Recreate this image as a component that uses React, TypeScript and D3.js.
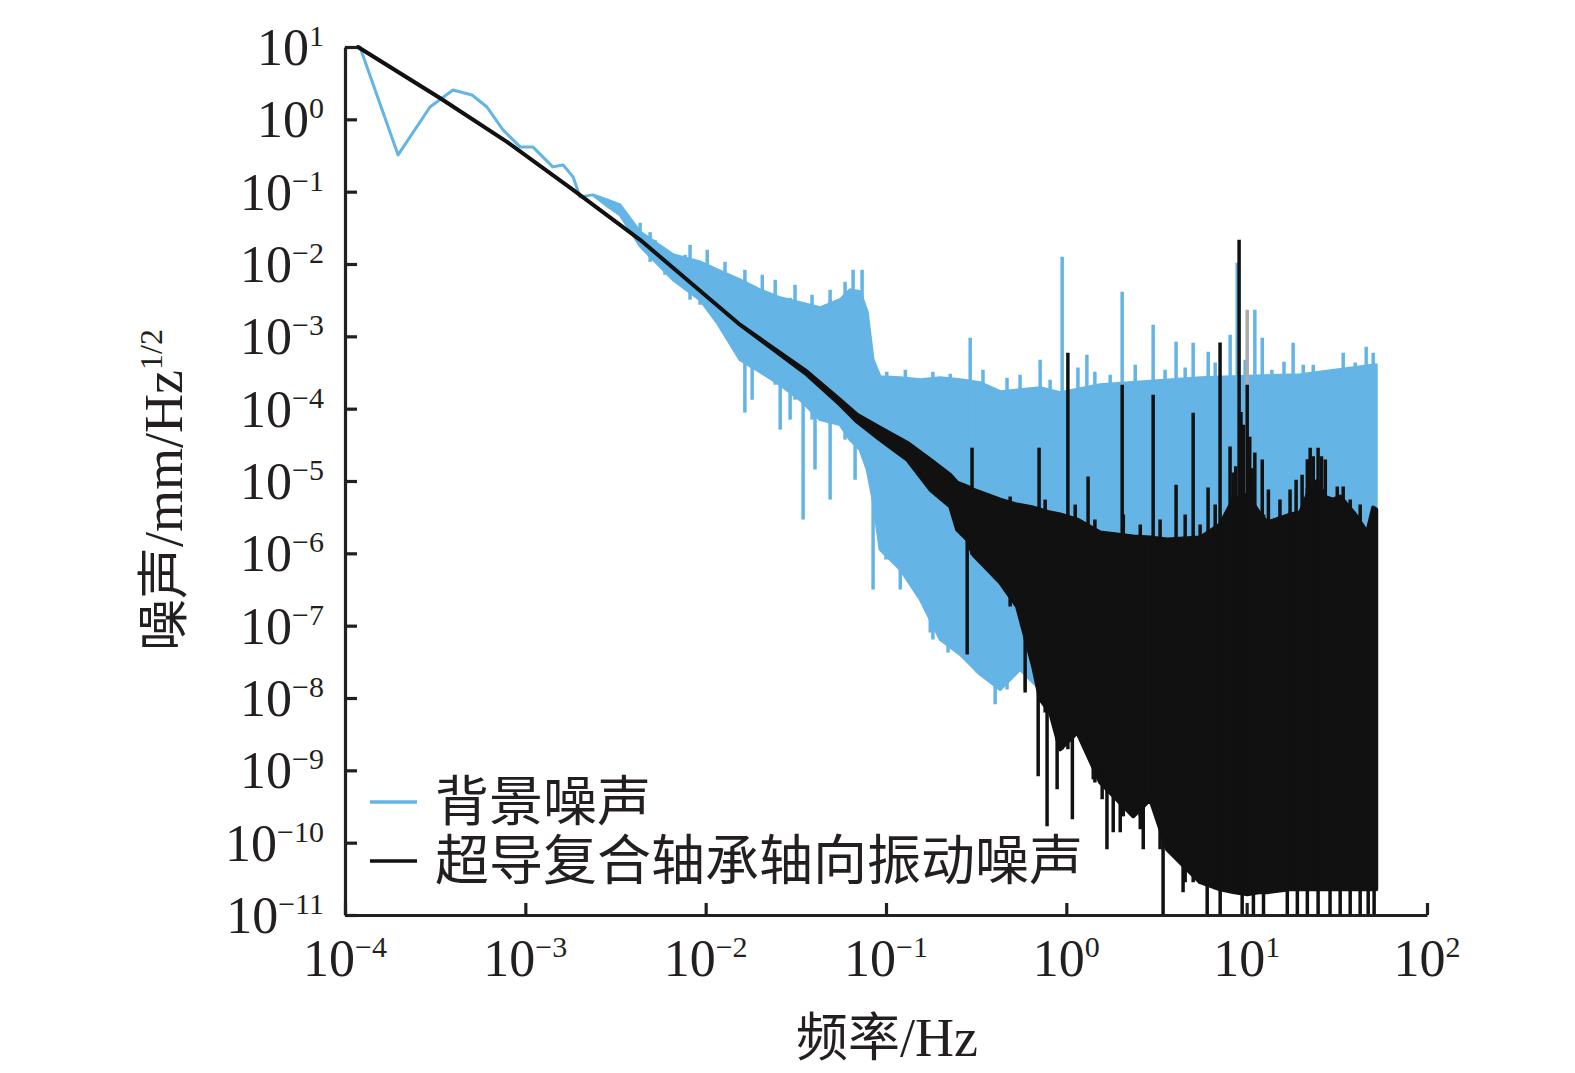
import React, { useRef, useEffect } from "react";
import * as d3 from "d3";

const W = 1575;
const H = 1073;
const BLUE = "#64b4e6";
const BLACK = "#111111";
const INK = "#231f20";

// 背景噪声 : envelope of the noisy curve (Hz, mm/Hz^1/2)
const bgFreq = [
  1.21e-4, 1.97e-4, 2.96e-4, 3.97e-4, 5.06e-4, 6.13e-4, 7.52e-4, 9.35e-4, 1.1e-3, 1.42e-3,
  1.62e-3, 1.84e-3, 2.01e-3, 2.37e-3, 2.84e-3, 3.35e-3, 4.33e-3, 6.6e-3, 9.31e-3, 1.16e-2,
  1.55e-2, 2.0e-2, 2.59e-2, 3.34e-2, 4.31e-2, 5.56e-2, 6.32e-2, 7.18e-2, 7.86e-2, 8.48e-2,
  9.27e-2, 0.12, 0.155, 0.2, 0.258, 0.333, 0.43, 0.554, 0.716, 0.924, 1.54, 5.52, 19.8, 52.3,
];
const bgHigh = [
  10, 0.322, 1.48, 2.55, 2.17, 1.48, 0.714, 0.416, 0.416, 0.22,
  0.234, 0.16, 0.0847, 0.0903, 0.0771, 0.0658, 0.0276, 0.0134, 0.0107, 8.32e-3,
  6.05e-3, 4.4e-3, 3.41e-3, 2.91e-3, 2.48e-3, 3.21e-3, 4.4e-3, 4.13e-3, 2.19e-3, 4.75e-4,
  2.77e-4, 2.68e-4, 2.52e-4, 2.68e-4, 2.52e-4, 2.29e-4, 1.72e-4, 1.83e-4, 1.95e-4, 1.66e-4,
  2.14e-4, 2.68e-4, 2.95e-4, 4.06e-4,
];
const bgLow = [
  10, 0.322, 1.48, 2.55, 2.17, 1.48, 0.714, 0.416, 0.416, 0.22,
  0.234, 0.16, 0.0847, 0.0903, 0.0637, 0.0479, 0.0177, 6.05e-3, 3.21e-3, 1.54e-3,
  4.75e-4, 3.24e-4, 2.14e-4, 1.33e-4, 7.05e-5, 6.01e-5, 3.73e-5, 2.72e-5, 1.44e-5, 5.53e-6,
  1.13e-6, 5.97e-7, 2.3e-7, 6.44e-8, 4.0e-8, 2.12e-8, 1.31e-8, 2.48e-8, 1.31e-8, 9.6e-9,
  5.06e-9, 5.06e-9, 5.06e-9, 5.06e-9,
];
const bgSpikes: [number, number][] = [
  [4.33e-3, 0.0371], [5.24e-3, 0.0216], [8.19e-3, 0.0184], [1.02e-2, 0.0157], [1.28e-2, 0.0107],
  [1.65e-2, 8.32e-3], [2.06e-2, 7.1e-3], [2.43e-2, 6.05e-3], [3.13e-2, 5.16e-3], [3.89e-2, 3.76e-3],
  [4.9e-2, 4.4e-3], [5.93e-2, 5.68e-3], [6.57e-2, 8.32e-3], [7.37e-2, 8.32e-3],
  [0.101, 3.24e-4], [0.128, 3.46e-4], [0.182, 3.24e-4], [0.227, 3.04e-4], [0.293, 9.57e-4],
  [0.345, 3.46e-4], [0.469, 2.68e-4], [0.554, 2.95e-4], [0.716, 4.75e-4], [0.813, 2.52e-4],
  [0.948, 0.0126], [1.16, 3.7e-4], [1.3, 5.57e-4], [1.44, 3.24e-4], [1.75, 2.95e-4],
  [2.04, 4.13e-3], [2.41, 4.06e-4], [3.03, 1.45e-3], [3.53, 3.46e-4], [4.06, 8.42e-4],
  [4.56, 3.7e-4], [5.05, 8.16e-4], [6.12, 6.12e-4], [6.69, 4.34e-4], [8.1, 1.05e-3],
  [8.86, 0.0104], [9.81, 4.75e-4], [11.1, 2.33e-3], [12.2, 9.57e-4], [13.8, 3.46e-4],
  [16.1, 4.46e-4], [18.1, 8.16e-4], [20.6, 4.06e-4], [23.4, 4.06e-4], [27.3, 3.24e-4],
  [34.3, 5.93e-4], [40.0, 4.34e-4], [46.0, 7.18e-4], [50.3, 5.93e-4],
];
const bgDips: [number, number][] = [
  [4.92e-3, 0.0107], [5.95e-3, 7.1e-3], [7.69e-3, 4.4e-3], [9.31e-3, 2.73e-3], [1.37e-2, 8.97e-4],
  [1.65e-2, 8.81e-5], [1.81e-2, 1.33e-4], [2.59e-2, 5.13e-5], [2.94e-2, 7.05e-5], [3.47e-2, 2.93e-6],
  [4.04e-2, 1.44e-5], [4.9e-2, 5.53e-6], [6.74e-2, 1.04e-5], [8.48e-2, 3.16e-7], [0.1, 8.2e-7],
  [0.12, 3.16e-7], [0.14, 5.97e-7], [0.176, 8.05e-8], [0.221, 4.26e-8], [0.275, 1.22e-7],
  [0.32, 2.26e-8], [0.403, 8.2e-9], [0.488, 3.41e-8], [0.591, 1.31e-8],
];
const greySpikes: [number, number][] = [[10.07, 2.33e-3]];

// 超导复合轴承轴向振动噪声
const bkFreq = [
  1.18e-4, 3.36e-4, 7.91e-4, 1.84e-3, 4.33e-3, 1.55e-2, 3.65e-2, 5.56e-2, 6.92e-2,
  9.27e-2, 0.131, 0.176, 0.227, 0.248, 0.282, 0.304, 0.43, 0.533, 0.654,
  0.716, 0.813, 0.924, 1.15, 1.54, 2.35, 2.92, 3.62, 5.52, 7.13,
  8.42, 10.07, 11.9, 13.0, 17.4, 19.8, 22.5, 24.6, 27.3, 30.2,
  33.0, 40.0, 46.6, 50.3, 52.3,
];
const bkHigh = [
  10, 1.97, 0.488, 0.106, 0.0216, 1.45e-3, 3.24e-4, 1.33e-4, 8.26e-5,
  5.47e-5, 3.39e-5, 1.98e-5, 1.22e-5, 9.51e-6, 8.37e-6, 7.6e-6, 5.53e-6, 4.72e-6, 4.29e-6,
  4.03e-6, 3.66e-6, 3.44e-6, 2.93e-6, 1.94e-6, 1.71e-6, 1.65e-6, 1.55e-6, 1.65e-6, 2.5e-6,
  5.53e-6, 6.5e-6, 3.44e-6, 2.66e-6, 3.44e-6, 3.66e-6, 8.0e-6, 1.0e-5, 6.0e-6, 5.53e-6,
  6.1e-6, 3.44e-6, 1.94e-6, 4.29e-6, 4.03e-6,
];
const bkLow = [
  10, 1.97, 0.488, 0.106, 0.0216, 1.45e-3, 2.95e-4, 1.14e-4, 6.6e-5,
  3.73e-5, 1.98e-5, 7.6e-6, 4.43e-6, 2.13e-6, 1.55e-6, 9.6e-7, 3.95e-7, 1.84e-7, 2.73e-8,
  9.6e-9, 6.3e-9, 1.95e-9, 3.35e-9, 6.8e-10, 2.32e-10, 3.98e-10, 8.1e-11, 2.84e-11, 2.27e-11,
  2.07e-11, 1.94e-11, 2.07e-11, 2.07e-11, 2.27e-11, 2.27e-11, 2.27e-11, 2.27e-11, 2.27e-11, 2.27e-11,
  2.27e-11, 2.27e-11, 2.27e-11, 2.27e-11, 2.27e-11,
];
const bkSpikes: [number, number][] = [
  [0.3, 2.89e-5], [0.488, 6.1e-6], [0.554, 4.72e-6], [0.706, 2.89e-5], [0.763, 5.53e-6],
  [1.02, 5.93e-4], [1.12, 4.72e-6], [1.32, 1.15e-5], [1.44, 2.93e-6], [2.04, 2.14e-4],
  [2.07, 3.44e-6], [2.57, 2.5e-6], [3.03, 1.56e-4], [3.31, 2.93e-6], [4.06, 8.9e-6],
  [4.56, 3.44e-6], [5.05, 8.8e-5], [5.52, 2.5e-6], [6.11, 8.1e-6], [6.69, 4.72e-6],
  [7.12, 8.2e-4], [8.09, 2.99e-5], [8.42, 1.31e-5], [8.7, 1.6e-5], [9.08, 2.16e-2],
  [9.3, 9.0e-5], [9.6, 6.0e-5], [10.07, 2.14e-4], [10.4, 4.1e-5], [10.7, 1.5e-5],
  [11.1, 2.47e-5], [12.2, 1.98e-5], [13.2, 7.6e-6], [15.3, 5.53e-6], [17.4, 7.6e-6],
  [18.8, 1.04e-5], [20.3, 1.22e-5], [21.7, 2.0e-5], [22.5, 2.89e-5], [23.4, 2.2e-5],
  [24.9, 2.89e-5], [26.0, 2.2e-5], [27.3, 1.98e-5], [31.8, 8.4e-6], [34.3, 8.4e-6],
  [37.5, 5.53e-6], [42.6, 4.72e-6],
];
const bkDips: [number, number][] = [
  [0.282, 4.0e-8], [0.591, 1.19e-8], [0.698, 8.26e-10], [0.782, 1.69e-10], [0.889, 5.47e-10],
  [0.948, 1.95e-9], [1.08, 2.1e-10], [1.41, 7.5e-10], [1.58, 3.98e-10], [1.68, 8.1e-11],
  [1.82, 1.39e-10], [1.99, 1.39e-10], [2.57, 1.53e-10], [2.67, 8.1e-11], [3.03, 3.61e-10],
  [3.44, 5e-12], [4.44, 2.07e-11], [6.04, 5e-12], [7.13, 5e-12], [9.44, 5e-12],
  [10.9, 5e-12], [12.4, 5e-12], [16.8, 5e-12], [19.1, 5e-12], [21.7, 5e-12],
  [24.9, 5e-12], [29.0, 5e-12], [33.0, 5e-12], [37.5, 5e-12], [42.6, 5e-12],
  [47.2, 5e-12], [50.9, 5e-12],
];

const xExps = [-4, -3, -2, -1, 0, 1, 2];
const yExps = [1, 0, -1, -2, -3, -4, -5, -6, -7, -8, -9, -10, -11];

const legendItems = [
  { label: "背景噪声", color: BLUE },
  { label: "超导复合轴承轴向振动噪声", color: BLACK },
];

const SERIF = "'Liberation Serif', 'Times New Roman', serif";
const CJK = "'Noto Sans CJK SC', sans-serif";

const sup = (e: number) => (e < 0 ? "\u2212" + Math.abs(e) : String(e));

const App = () => {
  const svgRef = useRef<SVGSVGElement>(null);

  useEffect(() => {
    const svg = d3.select(svgRef.current);
    svg.selectAll("*").remove();

    const x = d3.scaleLog().domain([1e-4, 1e2]).range([345, 1427]);
    const y = d3.scaleLog().domain([1e-11, 1e1]).range([915, 47]);

    svg
      .append("defs")
      .append("clipPath")
      .attr("id", "plot-clip")
      .append("rect")
      .attr("x", 345)
      .attr("y", 30)
      .attr("width", 1427 - 345)
      .attr("height", 915 - 30);

    const plot = svg.append("g").attr("clip-path", "url(#plot-clip)");

    const drawBand = (freq: number[], high: number[], low: number[], color: string, sw: number) => {
      const area = d3
        .area<number>()
        .x((f) => x(f))
        .y0((_, i) => y(low[i]))
        .y1((_, i) => y(high[i]));
      plot
        .append("path")
        .datum(freq)
        .attr("d", area)
        .attr("fill", color)
        .attr("stroke", color)
        .attr("stroke-width", sw)
        .attr("stroke-linejoin", "round");
    };

    // vertical excursions, anchored inside the band at the nearest sample
    const drawSticks = (
      sticks: [number, number][],
      freq: number[],
      anchor: number[],
      color: string,
      sw: number
    ) => {
      plot
        .append("g")
        .selectAll("line")
        .data(sticks)
        .join("line")
        .attr("x1", (d) => x(d[0]))
        .attr("x2", (d) => x(d[0]))
        .attr("y1", (d) => y(d[1]))
        .attr("y2", (d) => {
          const i = d3.minIndex(freq, (f) => Math.abs(Math.log(f / d[0])));
          return y(anchor[i]);
        })
        .attr("stroke", color)
        .attr("stroke-width", sw);
    };

    drawBand(bgFreq, bgHigh, bgLow, BLUE, 3);
    drawSticks(bgSpikes, bgFreq, bgLow, BLUE, 3.5);
    drawSticks(bgDips, bgFreq, bgHigh, BLUE, 3.5);
    drawSticks(greySpikes, bgFreq, bgLow, "#aaaaaa", 3.5);

    drawBand(bkFreq, bkHigh, bkLow, BLACK, 4);
    drawSticks(bkSpikes, bkFreq, bkLow, BLACK, 3.5);
    drawSticks(bkDips, bkFreq, bkHigh, BLACK, 3.5);

    // axes
    const xAxis = d3
      .axisBottom(x)
      .tickValues(xExps.map((e) => Math.pow(10, e)))
      .tickSizeInner(-12)
      .tickSizeOuter(0)
      .tickFormat(() => "");
    const yAxis = d3
      .axisLeft(y)
      .tickValues(yExps.map((e) => Math.pow(10, e)))
      .tickSizeInner(-12)
      .tickSizeOuter(0)
      .tickFormat(() => "");

    const gx = svg.append("g").attr("transform", "translate(0,915)").call(xAxis);
    const gy = svg.append("g").attr("transform", "translate(345,0)").call(yAxis);
    [gx, gy].forEach((g) => {
      g.select(".domain").attr("stroke", INK).attr("stroke-width", 3.2);
      g.selectAll(".tick line").attr("stroke", INK).attr("stroke-width", 3.2);
    });

    // tick labels 10^n
    const xl = svg
      .append("g")
      .selectAll("text")
      .data(xExps)
      .join("text")
      .attr("x", (e) => x(Math.pow(10, e)))
      .attr("y", 976)
      .attr("text-anchor", "middle")
      .attr("font-family", SERIF)
      .attr("font-size", 52)
      .attr("fill", INK);
    xl.append("tspan").text("10");
    xl.append("tspan").attr("dy", -19).attr("font-size", 30).text((e) => sup(e));

    const yl = svg
      .append("g")
      .selectAll("text")
      .data(yExps)
      .join("text")
      .attr("x", 324)
      .attr("y", (e) => y(Math.pow(10, e)) + 18)
      .attr("text-anchor", "end")
      .attr("font-family", SERIF)
      .attr("font-size", 52)
      .attr("fill", INK);
    yl.append("tspan").text("10");
    yl.append("tspan").attr("dy", -19).attr("font-size", 30).text((e) => sup(e));

    // axis titles
    const xt = svg
      .append("text")
      .attr("x", 887)
      .attr("y", 1056)
      .attr("text-anchor", "middle")
      .attr("font-family", SERIF)
      .attr("font-size", 54)
      .attr("fill", INK);
    xt.append("tspan").attr("font-family", CJK).attr("font-size", 52).text("频率");
    xt.append("tspan").text("/Hz");

    const yt = svg
      .append("text")
      .attr("transform", "translate(182,490) rotate(-90)")
      .attr("text-anchor", "middle")
      .attr("font-family", SERIF)
      .attr("font-size", 54)
      .attr("fill", INK);
    yt.append("tspan").attr("font-family", CJK).attr("font-size", 52).text("噪声");
    yt.append("tspan").text("/mm/Hz");
    yt.append("tspan").attr("dy", -20).attr("font-size", 32).text("1/2");

    // legend
    const lg = svg
      .append("g")
      .selectAll("g")
      .data(legendItems)
      .join("g")
      .attr("transform", (_, i) => `translate(0,${802 + i * 59})`);
    lg.append("line")
      .attr("x1", 370)
      .attr("x2", 417)
      .attr("stroke", (d) => d.color)
      .attr("stroke-width", 3.5);
    lg.append("text")
      .attr("x", 435)
      .attr("y", 19)
      .attr("font-family", CJK)
      .attr("font-size", 54)
      .attr("fill", INK)
      .text((d) => d.label);
  }, []);

  return (
    <svg
      ref={svgRef}
      width={W}
      height={H}
      style={{ position: "absolute", left: 0, top: 0, background: "#fff" }}
    />
  );
};

export default App;
